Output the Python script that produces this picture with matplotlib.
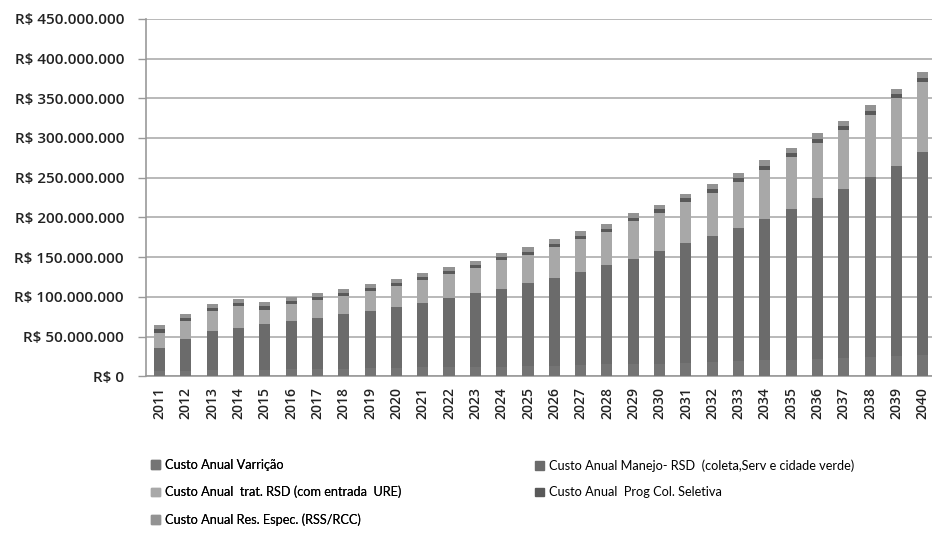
import numpy as np
import matplotlib
matplotlib.use("Agg")
import matplotlib.pyplot as plt
from matplotlib.patches import Patch
from matplotlib.font_manager import FontProperties

years = [str(y) for y in range(2011, 2041)]

# annual costs, millions of R$
varricao = [7, 7, 8, 8, 8, 9, 9, 9, 10, 10, 11, 11, 12, 12, 13,
            13, 14, 15, 15, 16, 17, 18, 19, 20, 21, 22, 23, 24, 26, 27]
manejo = [28, 40, 49, 53, 58, 60, 64, 69, 72, 77, 81, 87, 93, 98, 104,
          111, 117, 125, 133, 142, 151, 159, 168, 178, 190, 202, 213, 227, 239, 255]
trat = [20, 22, 25, 27, 18, 22, 23, 23, 25, 27, 29, 31, 31, 36, 36,
        39, 42, 42, 47, 47, 51, 54, 58, 62, 65, 70, 74, 78, 85, 88]
prog = [4, 4, 4, 4, 4, 4, 4, 4, 4, 4, 4, 4, 4, 4, 4,
        4, 4, 4, 4, 5, 5, 5, 5, 5, 5, 5, 5, 5, 5, 5]
res_espec = [5, 5, 5, 5, 5, 5, 5, 5, 5, 5, 5, 5, 5, 5, 6,
             6, 6, 6, 6, 6, 6, 6, 6, 7, 7, 7, 7, 7, 7, 8]

series = [
    ("Custo Anual Varrição", varricao, "#747474"),
    ("Custo Anual Manejo- RSD  (coleta,Serv e cidade verde)", manejo, "#6b6b6b"),
    ("Custo Anual  trat. RSD (com entrada  URE)", trat, "#a8a8a8"),
    ("Custo Anual  Prog Col. Seletiva", prog, "#595959"),
    ("Custo Anual Res. Espec. (RSS/RCC)", res_espec, "#939393"),
]

plt.rcParams['font.family'] = ['Open Sans', 'DejaVu Sans']
legend_font = FontProperties(family=['Lato', 'DejaVu Sans'], size=9.2)

fig = plt.figure(figsize=(9.32, 5.39), dpi=100)
ax = fig.add_axes([0.157, 0.302, 0.843, 0.663])

x = np.arange(len(years))
bottom = np.zeros(len(years))
handles = []
for name, vals, col in series:
    v = np.array(vals) * 1e6
    ax.bar(x, v, 0.42, bottom=bottom, color=col, linewidth=0, zorder=3)
    bottom += v
    handles.append(Patch(color=col, label=name))

ax.set_ylim(0, 450e6)
ax.set_xlim(-0.5, 29.35)
yt = np.arange(0, 451e6, 50e6)
ax.set_yticks(yt)
ax.set_yticklabels(["R$ 0" if t == 0 else "R$ " + f"{int(t):,}".replace(",", ".") for t in yt],
                   fontsize=11, color="#222222", fontweight="semibold")
ax.set_xticks(x)
ax.set_xticklabels(years, rotation=90, fontsize=10, color="#222222", fontweight="semibold")
ax.yaxis.grid(True, color="#b3b3b3", linewidth=1.3, zorder=0)
ax.tick_params(axis='y', length=6, color="#999999", width=1, pad=10)
ax.tick_params(axis='x', length=0, pad=8)
for s in ["top", "right"]:
    ax.spines[s].set_visible(False)
for s in ["left", "bottom"]:
    ax.spines[s].set_color("#999999")
    ax.spines[s].set_linewidth(1.2)

# two legend columns placed separately
leg_kw = dict(loc="upper left", ncol=1, frameon=False, prop=legend_font,
              handlelength=0.7, handleheight=0.7, handletextpad=0.4,
              labelspacing=1.15, borderaxespad=0, borderpad=0)
left_col = [0, 2, 4]
right_col = [1, 3]
leg1 = fig.legend([handles[i] for i in left_col], [series[i][0] for i in left_col],
                  bbox_to_anchor=(0.162, 0.148), **leg_kw)
fig.add_artist(leg1)
fig.legend([handles[i] for i in right_col], [series[i][0] for i in right_col],
           bbox_to_anchor=(0.574, 0.148), **leg_kw)

fig.savefig("out.png", dpi=100)
